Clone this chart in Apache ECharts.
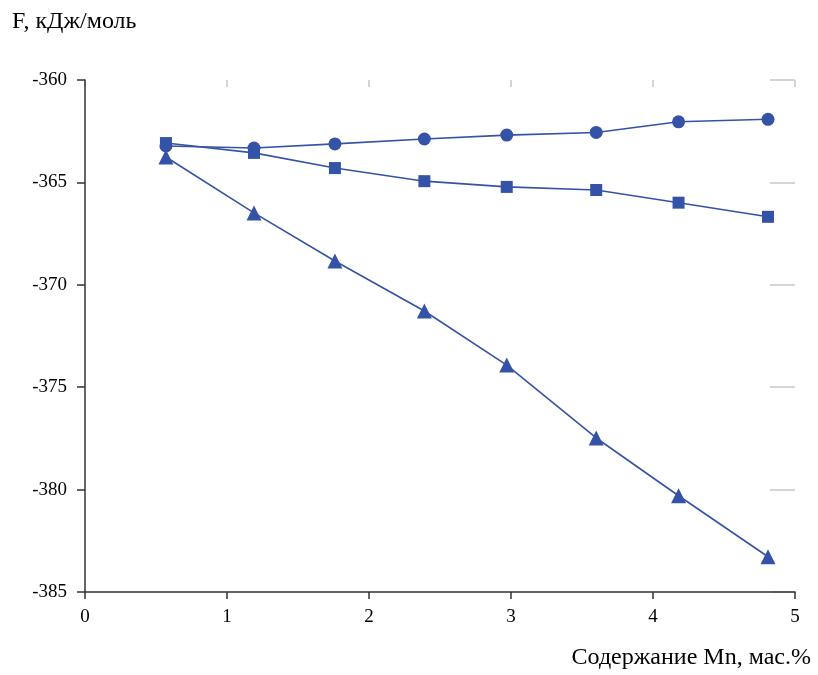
<!DOCTYPE html>
<html>
<head>
<meta charset="utf-8">
<script src="https://cdn.jsdelivr.net/npm/echarts@6/dist/echarts.min.js"></script>
<style>html,body{margin:0;padding:0;background:#fff}#c{width:818px;height:675px}</style>
</head>
<body>
<div id="c"></div>
<script>
const xValues = [0.57, 1.19, 1.76, 2.39, 2.97, 3.60, 4.18, 4.81];
const circleSeries = [-363.22, -363.32, -363.12, -362.88, -362.69, -362.56, -362.04, -361.92];
const squareSeries = [-363.08, -363.56, -364.30, -364.94, -365.22, -365.37, -365.99, -366.68];
const triangleSeries = [-363.76, -366.49, -368.84, -371.28, -373.92, -377.48, -380.30, -383.28];
const xTicks = [0, 1, 2, 3, 4, 5];
const yTicks = [-385, -380, -375, -370, -365, -360];
const yTitle = 'F, кДж/моль';
const xTitle = 'Содержание Mn, мас.%';

const FONT = '"Liberation Serif", "DejaVu Serif", serif';
const BLUE = '#3553a6';
const pairs = arr => xValues.map((x, i) => [x, arr[i]]);

function mkSeries(data, symbol, size) {
  return {
    type: 'line', data: pairs(data), symbol: symbol, symbolSize: size,
    showSymbol: true, xAxisIndex: 0, yAxisIndex: 0,
    lineStyle: { color: BLUE, width: 1.6 },
    itemStyle: { color: BLUE },
    animation: false, z: 3
  };
}

const chart = echarts.init(document.getElementById('c'));
chart.setOption({
  animation: false,
  backgroundColor: '#fff',
  grid: { left: 85, right: 23, top: 80, bottom: 83 },
  graphic: [
    { type: 'text', left: 12, top: 10, style: { text: yTitle, font: '24px ' + FONT, fill: '#000' } },
    { type: 'text', right: 7, top: 646, style: { text: xTitle, font: '24px ' + FONT, fill: '#000' } }
  ],
  xAxis: [
    {
      type: 'value', position: 'bottom', min: xTicks[0], max: xTicks[xTicks.length - 1], interval: 1, z: 2,
      axisLine: { show: true, onZero: false, lineStyle: { color: '#333', width: 1.5 } },
      axisTick: { show: true, inside: false, length: 7, lineStyle: { color: '#333', width: 1.5 } },
      axisLabel: { color: '#000', fontFamily: FONT, fontSize: 19, margin: 16 },
      splitLine: { show: false }
    },
    {
      type: 'value', position: 'top', min: xTicks[0], max: xTicks[xTicks.length - 1], interval: 1, z: 0,
      axisLine: { show: false, onZero: false },
      axisTick: { show: true, inside: true, length: 7, lineStyle: { color: '#c8c8c8', width: 1.5 } },
      axisLabel: { show: false }, splitLine: { show: false }
    }
  ],
  yAxis: [
    {
      type: 'value', position: 'left', min: yTicks[0], max: yTicks[yTicks.length - 1], interval: 5, z: 2,
      axisLine: { show: true, onZero: false, lineStyle: { color: '#333', width: 1.5 } },
      axisTick: { show: true, inside: false, length: 8, lineStyle: { color: '#333', width: 1.5 } },
      axisLabel: { color: '#000', fontFamily: FONT, fontSize: 19, margin: 18 },
      splitLine: { show: false }
    },
    {
      type: 'value', position: 'right', min: yTicks[0], max: yTicks[yTicks.length - 1], interval: 5, z: 0,
      axisLine: { show: false, onZero: false },
      axisTick: { show: true, inside: true, length: 25, lineStyle: { color: '#c8c8c8', width: 1.5 } },
      axisLabel: { show: false }, splitLine: { show: false }
    }
  ],
  series: [
    mkSeries(circleSeries, 'circle', 13),
    mkSeries(squareSeries, 'rect', 12),
    mkSeries(triangleSeries, 'triangle', 15)
  ]
});
</script>
</body>
</html>
